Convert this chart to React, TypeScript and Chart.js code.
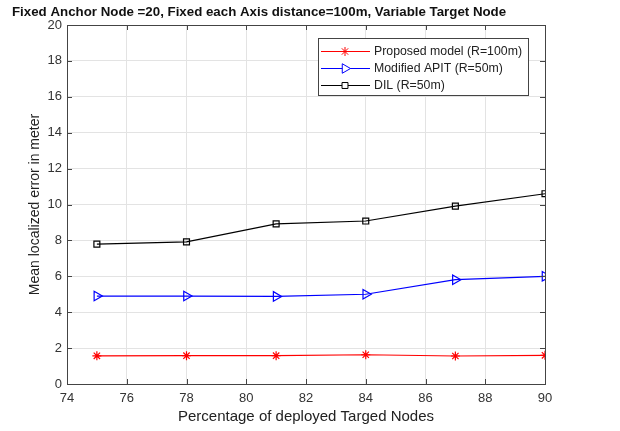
import React, { useEffect, useRef } from "react";
import { Chart, registerables } from "chart.js";

Chart.register(...registerables);

const titleText = "Fixed Anchor Node =20, Fixed each Axis distance=100m, Variable Target Node";
const xAxisTitle = "Percentage of deployed Targed Nodes";
const yAxisTitle = "Mean localized error in meter";

const xValues = [75, 78, 81, 84, 87, 90];
const proposedValues = [1.57, 1.58, 1.58, 1.63, 1.56, 1.6];
const apitValues = [4.9, 4.9, 4.88, 5.0, 5.81, 6.0];
const dilValues = [7.79, 7.92, 8.92, 9.08, 9.91, 10.6];

const seriesLabels = ["Proposed model (R=100m)", "Modified APIT (R=50m)", "DIL (R=50m)"];

const FONT = "'Liberation Sans', Arial, Helvetica, sans-serif";
const BOX = "#444444";

function drawMarker(ctx: CanvasRenderingContext2D, style: string, x: number, y: number, r: number, color: string) {
  ctx.save();
  ctx.strokeStyle = color;
  ctx.lineWidth = 1;
  ctx.beginPath();
  if (style === "star") {
    for (let i = 0; i < 4; i++) {
      const a = (i * Math.PI) / 4;
      ctx.moveTo(x - Math.cos(a) * r, y - Math.sin(a) * r);
      ctx.lineTo(x + Math.cos(a) * r, y + Math.sin(a) * r);
    }
  } else if (style === "triangle") {
    ctx.moveTo(x + r, y);
    ctx.lineTo(x - r * 0.5, y - r * 0.866);
    ctx.lineTo(x - r * 0.5, y + r * 0.866);
    ctx.closePath();
    ctx.fillStyle = "#fff";
    ctx.fill();
  } else {
    const s = r * Math.SQRT1_2;
    ctx.rect(x - s, y - s, 2 * s, 2 * s);
    ctx.fillStyle = "#fff";
    ctx.fill();
  }
  ctx.stroke();
  ctx.restore();
}

const framePlugin = {
  id: "frame",
  afterDatasetsDraw(chart: any) {
    const { ctx, chartArea: a, scales } = chart;
    ctx.save();
    ctx.strokeStyle = BOX;
    ctx.lineWidth = 1;
    const tl = 5;
    ctx.beginPath();
    scales.x.ticks.forEach((t: any) => {
      const px = Math.round(scales.x.getPixelForValue(t.value)) + 0.5;
      ctx.moveTo(px, a.bottom);
      ctx.lineTo(px, a.bottom - tl);
      ctx.moveTo(px, a.top);
      ctx.lineTo(px, a.top + tl);
    });
    scales.y.ticks.forEach((t: any) => {
      const py = Math.round(scales.y.getPixelForValue(t.value)) + 0.5;
      ctx.moveTo(a.left, py);
      ctx.lineTo(a.left + tl, py);
      ctx.moveTo(a.right, py);
      ctx.lineTo(a.right - tl, py);
    });
    ctx.stroke();
    ctx.strokeRect(Math.round(a.left) + 0.5, Math.round(a.top) + 0.5, Math.round(a.right - a.left), Math.round(a.bottom - a.top));

    // title
    ctx.fillStyle = "#111";
    ctx.font = `bold 13.3px ${FONT}`;
    ctx.textAlign = "left";
    ctx.textBaseline = "middle";
    ctx.fillText(titleText, 12, 12);

    // legend
    const lx = 318, ly = 38, lw = 210, lh = 57;
    ctx.fillStyle = "#fff";
    ctx.fillRect(lx, ly, lw, lh);
    ctx.strokeStyle = BOX;
    ctx.strokeRect(lx + 0.5, ly + 0.5, lw, lh);
    ctx.font = `12.3px ${FONT}`;
    chart.data.datasets.forEach((ds: any, i: number) => {
      const y = ly + 13 + i * 17;
      ctx.strokeStyle = ds.borderColor;
      ctx.beginPath();
      ctx.moveTo(lx + 3, y + 0.5);
      ctx.lineTo(lx + 52, y + 0.5);
      ctx.stroke();
      drawMarker(ctx, ds.pointStyle, lx + 27, y + 0.5, ds.pointRadius, ds.borderColor);
      ctx.fillStyle = "#222";
      ctx.textAlign = "left";
      ctx.fillText(ds.label, lx + 56, y + 1);
    });
    ctx.restore();
  },
};

export default function App() {
  const ref = useRef<HTMLCanvasElement>(null);
  useEffect(() => {
    if (!ref.current) return;
    const mk = (vals: number[]) => xValues.map((x, i) => ({ x, y: vals[i] }));
    const chart = new Chart(ref.current, {
      type: "line",
      data: {
        datasets: [
          {
            label: seriesLabels[0],
            data: mk(proposedValues),
            borderColor: "#ff0000",
            backgroundColor: "#ff0000",
            borderWidth: 1.2,
            pointStyle: "star",
            pointRadius: 4.5,
            pointBorderWidth: 1.2,
          },
          {
            label: seriesLabels[1],
            data: mk(apitValues),
            borderColor: "#0000ff",
            backgroundColor: "rgba(255,255,255,0)",
            borderWidth: 1.2,
            pointStyle: "triangle",
            pointRotation: 90,
            pointRadius: 5.5,
            pointBorderWidth: 1.2,
          },
          {
            label: seriesLabels[2],
            data: mk(dilValues),
            borderColor: "#000000",
            backgroundColor: "rgba(255,255,255,0)",
            borderWidth: 1.2,
            pointStyle: "rect",
            pointRadius: 4.2,
            pointBorderWidth: 1.2,
          },
        ],
      } as any,
      options: {
        responsive: false,
        animation: false,
        layout: { padding: { left: 0, right: 75, top: 25, bottom: 0 } },
        plugins: {
          legend: { display: false },
          title: { display: false },
          tooltip: { enabled: false },
        },
        scales: {
          x: {
            type: "linear",
            min: 74,
            max: 90,
            ticks: { stepSize: 2, color: "#333", font: { family: FONT, size: 13 }, padding: 7 },
            grid: { color: "#e3e3e3", drawTicks: false },
            border: { display: false },
            title: {
              display: true,
              text: xAxisTitle,
              color: "#222",
              font: { family: FONT, size: 15 },
              padding: { top: 0, bottom: 5 },
            },
            afterFit: (s: any) => {
              s.height = 47;
            },
          },
          y: {
            type: "linear",
            min: 0,
            max: 20,
            ticks: { stepSize: 2, color: "#333", font: { family: FONT, size: 13 }, padding: 5 },
            grid: { color: "#e3e3e3", drawTicks: false },
            border: { display: false },
            title: {
              display: true,
              text: yAxisTitle,
              color: "#222",
              font: { family: FONT, size: 14 },
              padding: { top: 27, bottom: 0 },
            },
            afterFit: (s: any) => {
              s.width = 67;
            },
          },
        },
      } as any,
      plugins: [framePlugin],
    });
    return () => chart.destroy();
  }, []);
  return (
    <div style={{ position: "absolute", left: 0, top: 0, width: 620, height: 431, background: "#fff" }}>
      <canvas ref={ref} width={620} height={431} style={{ display: "block" }} />
    </div>
  );
}
